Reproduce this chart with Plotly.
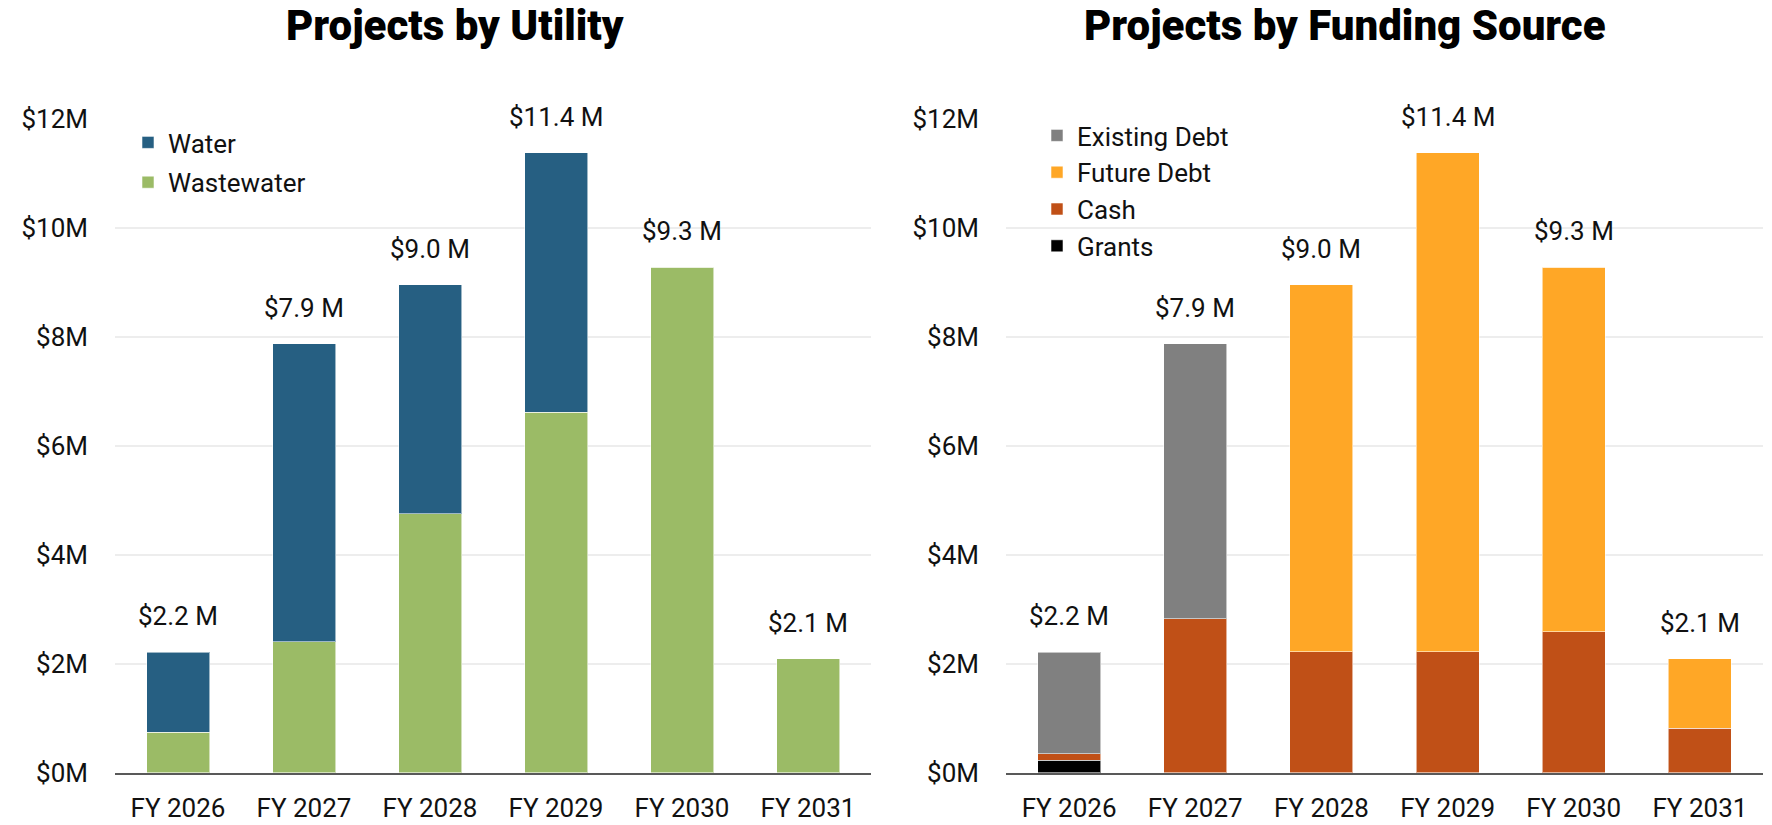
import plotly.graph_objects as go

years = ["FY 2026", "FY 2027", "FY 2028", "FY 2029", "FY 2030", "FY 2031"]

# Projects by Utility ($M)
water = [1.47, 5.47, 4.21, 4.76, 0.0, 0.0]
wastewater = [0.74, 2.40, 4.75, 6.62, 9.28, 2.09]

# Projects by Funding Source ($M)
grants = [0.23, 0.0, 0.0, 0.0, 0.0, 0.0]
cash = [0.12, 2.83, 2.22, 2.22, 2.59, 0.82]
existing_debt = [1.86, 5.04, 0.0, 0.0, 0.0, 0.0]
future_debt = [0.0, 0.0, 6.74, 9.16, 6.69, 1.27]

tick_vals = [0, 2, 4, 6, 8, 10, 12]
tick_text = ["$0M", "$2M", "$4M", "$6M", "$8M", "$10M", "$12M"]

FONT = "Roboto, 'Noto Sans', sans-serif"
TXT = "#111111"
W, H = 1772, 825
FS = 26


def px(x):
    return x / W


def py(y):
    return 1 - y / H


fig = go.Figure()
edge = dict(color="rgba(255,255,255,0.55)", width=1)

fig.add_trace(go.Bar(x=years, y=wastewater, name="Wastewater", marker=dict(color="#9BBB66", line=edge),
                     xaxis="x", yaxis="y", legend="legend", legendgroup="ww", legendrank=2))
fig.add_trace(go.Bar(x=years, y=water, name="Water", marker=dict(color="#265F82", line=edge),
                     xaxis="x", yaxis="y", legend="legend", legendgroup="w", legendrank=1))

fig.add_trace(go.Bar(x=years, y=grants, name="Grants", marker=dict(color="#000000", line=edge),
                     xaxis="x2", yaxis="y2", legend="legend2"))
fig.add_trace(go.Bar(x=years, y=cash, name="Cash", marker=dict(color="#C05017", line=edge),
                     xaxis="x2", yaxis="y2", legend="legend2"))
fig.add_trace(go.Bar(x=years, y=future_debt, name="Future Debt", marker=dict(color="#FFA726", line=edge),
                     xaxis="x2", yaxis="y2", legend="legend2"))
fig.add_trace(go.Bar(x=years, y=existing_debt, name="Existing Debt", marker=dict(color="#808080", line=edge),
                     xaxis="x2", yaxis="y2", legend="legend2"))

annotations = []
tot_left = [a + b for a, b in zip(water, wastewater)]
tot_right = [a + b + c + d for a, b, c, d in zip(grants, cash, existing_debt, future_debt)]
for yr, t in zip(years, tot_left):
    annotations.append(dict(x=yr, y=t, xref="x", yref="y", text=f"${t:.1f} M", showarrow=False,
                            yanchor="bottom", yshift=19, font=dict(size=FS, color=TXT, family=FONT)))
for yr, t in zip(years, tot_right):
    annotations.append(dict(x=yr, y=t, xref="x2", yref="y2", text=f"${t:.1f} M", showarrow=False,
                            yanchor="bottom", yshift=19, font=dict(size=FS, color=TXT, family=FONT)))

TITLE_FONT = dict(size=42, color="#000000", family="Roboto, sans-serif", weight=900)
annotations.append(dict(x=px(455), y=py(26), xref="paper", yref="paper", text="Projects by Utility",
                        showarrow=False, xanchor="center", yanchor="middle", font=TITLE_FONT))
annotations.append(dict(x=px(1345), y=py(26), xref="paper", yref="paper", text="Projects by Funding Source",
                        showarrow=False, xanchor="center", yanchor="middle", font=TITLE_FONT))

ydom = [py(772.7), py(119)]
yaxis_common = dict(range=[0, 12], tickvals=tick_vals, ticktext=tick_text, showgrid=True,
                    gridcolor="#EDEDED", gridwidth=2, zeroline=False, showline=False,
                    tickfont=dict(size=FS, color=TXT, family=FONT), ticks="", ticklabelstandoff=26,
                    domain=ydom, fixedrange=True, automargin=False)
xaxis_common = dict(showline=True, linecolor="#595959", linewidth=2, ticks="",
                    tickfont=dict(size=FS, color=TXT, family=FONT), ticklabelstandoff=11, showgrid=False,
                    automargin=False)

legend_font = dict(size=FS, color=TXT, family=FONT)
fig.update_layout(
    width=W, height=H,
    margin=dict(l=0, r=0, t=0, b=0, autoexpand=False),
    paper_bgcolor="white", plot_bgcolor="white",
    barmode="stack", bargap=0.5,
    showlegend=True,
    xaxis=dict(domain=[px(115), px(871)], anchor="y", **xaxis_common),
    yaxis=dict(anchor="x", **yaxis_common),
    xaxis2=dict(domain=[px(1006), px(1763)], anchor="y2", **xaxis_common),
    yaxis2=dict(anchor="x2", **yaxis_common),
    legend=dict(x=px(128), y=py(119), xanchor="left", yanchor="top", traceorder="grouped",
                font=legend_font, bgcolor="rgba(0,0,0,0)", itemwidth=30, tracegroupgap=3),
    legend2=dict(x=px(1037), y=py(112), xanchor="left", yanchor="top", traceorder="reversed",
                 font=legend_font, bgcolor="rgba(0,0,0,0)", itemwidth=30),
    annotations=annotations,
)

fig.write_html("out.html", config={"displayModeBar": False},
               post_script="document.body.style.margin='0';document.body.style.overflow='hidden';")
